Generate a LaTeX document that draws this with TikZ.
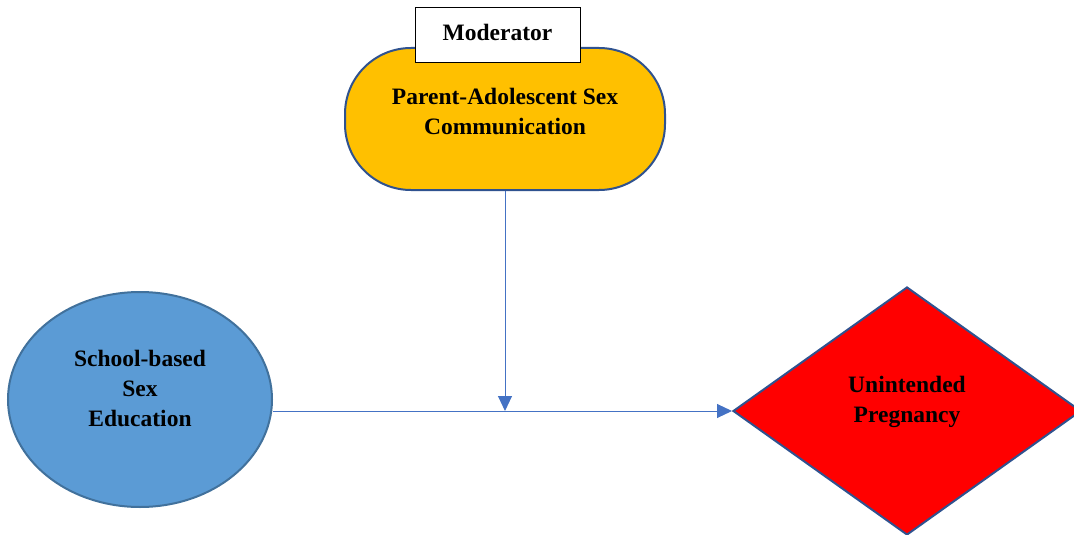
\documentclass[tikz,border=0pt]{standalone}
\usepackage{fontspec}
\setmainfont{Liberation Serif}
\usetikzlibrary{shapes.geometric,arrows.meta}
\definecolor{goldfill}{HTML}{FFC000}
\definecolor{bluefill}{HTML}{5B9BD5}
\definecolor{rimblue}{HTML}{2F528F}
\definecolor{rimsteel}{HTML}{41719C}
\definecolor{linkblue}{HTML}{4472C4}
\tikzset{
  lbl/.style={font=\fontsize{23.5}{30}\selectfont\bfseries, align=center, text=black},
  link/.style={draw=linkblue, line width=1pt, -{Triangle[length=15pt,width=14pt]}},
}
\begin{document}
\begin{tikzpicture}[x=1pt,y=-1pt]
  \useasboundingbox (0,0) rectangle (1074,535);
  \clip (0,0) rectangle (1074,535);
  % moderator: rounded capsule
  \node[draw=rimblue, line width=2pt, fill=goldfill, rounded corners=66pt,
        minimum width=320pt, minimum height=142pt, inner sep=0pt] (mod) at (505,119) {};
  \node[lbl, anchor=center] (modtext) at (505,111) {Parent-Adolescent Sex\\Communication};
  \node[draw=black, line width=1pt, fill=white, minimum width=165pt, minimum height=55pt,
        inner sep=0pt] (modtag) at (497.5,35.5) {};
  \node[lbl] (modtagtext) at (497.5,32.5) {Moderator};
  % independent variable
  \node[ellipse, draw=rimsteel, line width=2pt, fill=bluefill, minimum width=264pt,
        minimum height=215pt, inner sep=0pt] (iv) at (140,399.5) {};
  \node[lbl] (ivtext) at (140,388) {School-based\\Sex\\Education};
  % outcome
  \node[diamond, aspect=1.4, draw=rimblue, line width=2pt, fill=red, inner sep=0pt,
        minimum width=348pt, minimum height=248pt] (dv) at (907,411) {};
  \node[lbl] (dvtext) at (907,402) {Unintended\\Pregnancy};
  % paths
  \draw[link] (iv.east |- dv.west) -- (dv.west);
  \coordinate (join) at (mod.south |- dv.west);
  \draw[link] (mod.south) -- (join);
\end{tikzpicture}
\end{document}
